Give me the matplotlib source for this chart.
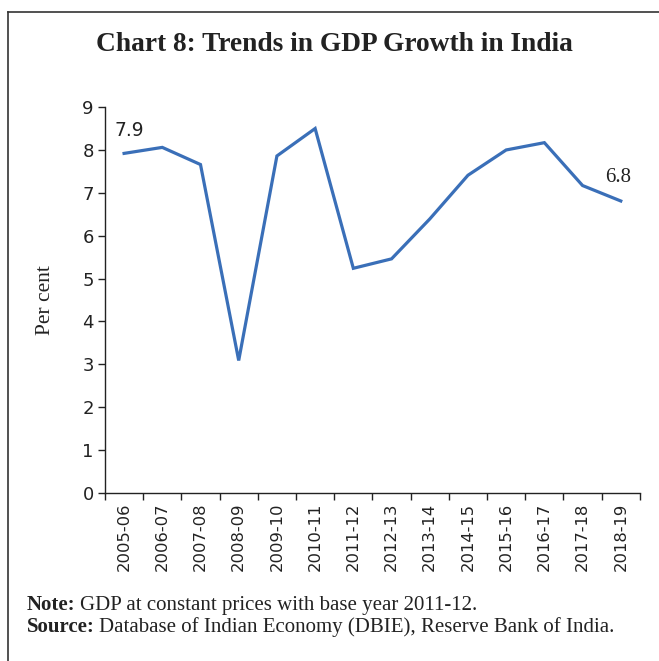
import matplotlib
matplotlib.use("Agg")
import matplotlib.pyplot as plt
from matplotlib.lines import Line2D
import numpy as np

years = ["2005-06", "2006-07", "2007-08", "2008-09", "2009-10", "2010-11", "2011-12",
         "2012-13", "2013-14", "2014-15", "2015-16", "2016-17", "2017-18", "2018-19"]
growth = [7.92, 8.06, 7.66, 3.09, 7.86, 8.50, 5.24, 5.46, 6.39, 7.41, 8.00, 8.17, 7.17, 6.81]
yticks = [0, 1, 2, 3, 4, 5, 6, 7, 8, 9]

fig = plt.figure(figsize=(6.59, 6.61), dpi=100)
ax = fig.add_axes([0.1593, 0.2542, 0.8117, 0.5838])

x = np.arange(len(years))
ax.plot(x, growth, color="#3a6fb8", lw=2.3, solid_joinstyle="miter")

ax.set_xlim(-0.5, len(years) - 0.5)
ax.set_ylim(0, 9)
ax.set_yticks(yticks)
ax.set_yticklabels([str(t) for t in yticks], fontsize=13, family="DejaVu Sans", color="#222222")
ax.set_xticks(np.arange(len(years) + 1) - 0.5)
ax.set_xticklabels([])
ax.set_xticks(x, minor=True)
ax.set_xticklabels(years, minor=True, rotation=90, fontsize=11.8, family="DejaVu Sans", color="#222222")
ax.tick_params(axis="x", which="minor", length=0, pad=7)
ax.tick_params(axis="both", which="major", direction="out", length=5, width=1, color="#222222")
ax.tick_params(axis="y", pad=3)
for s in ["top", "right"]:
    ax.spines[s].set_visible(False)
for s in ["left", "bottom"]:
    ax.spines[s].set_color("#222222")
    ax.spines[s].set_linewidth(1)

ax.set_ylabel("Per cent", fontsize=15.5, family="Liberation Serif", labelpad=20, color="#222222")

ax.annotate(f"{growth[0]:.1f}", (x[0], growth[0]), xytext=(4, 10), textcoords="offset points",
            ha="center", va="bottom", fontsize=13.5, family="DejaVu Sans", color="#222222")
ax.annotate(f"{growth[-1]:.1f}", (x[-1], growth[-1]), xytext=(-2, 10), textcoords="offset points",
            ha="center", va="bottom", fontsize=15, family="Liberation Serif", color="#222222")

fig.text(0.508, 0.932, "Chart 8: Trends in GDP Growth in India", ha="center", va="center",
         fontsize=19.7, fontweight="bold", family="Liberation Serif", color="#222222")

fig.canvas.draw()
renderer = fig.canvas.get_renderer()
inv = fig.transFigure.inverted()

def two_part(y, bold, rest, size=15):
    t = fig.text(0.041, y, bold, fontsize=size, fontweight="bold", family="Liberation Serif",
                 va="center", color="#222222")
    bb = t.get_window_extent(renderer=renderer)
    x1 = inv.transform((bb.x1, bb.y0))[0]
    fig.text(x1 + 0.006, y, rest, fontsize=size, family="Liberation Serif", va="center", color="#222222")

two_part(0.0847, "Note:", "GDP at constant prices with base year 2011-12.")
two_part(0.052, "Source:", "Database of Indian Economy (DBIE), Reserve Bank of India.")

fig.lines.append(Line2D([0.012, 0.012], [0, 0.982], transform=fig.transFigure, color="#333333", lw=1.2))
fig.lines.append(Line2D([0.012, 1.0], [0.982, 0.982], transform=fig.transFigure, color="#333333", lw=1.2))

fig.savefig("out.png", dpi=100)
